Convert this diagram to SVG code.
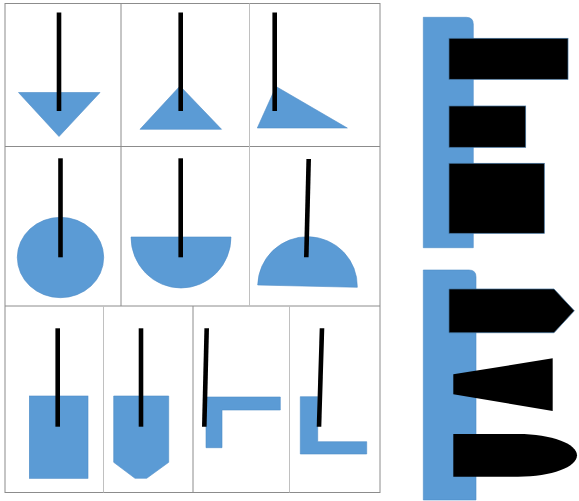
<svg xmlns="http://www.w3.org/2000/svg" width="579" height="501" viewBox="0 0 579 501">
<style>
.grid{stroke:#8c8c8c;stroke-width:1;fill:none}
.gridl{stroke:#c0c0c0;stroke-width:1;fill:none}
.blue{fill:#5B9BD5;stroke:#4F8DC8;stroke-width:0.6}
.rod{stroke:#000;stroke-width:4.6;stroke-linecap:butt}
.blk{fill:#000;stroke:#41719C;stroke-width:0.7}
.blk2{fill:#000}
</style>
<rect width="579" height="501" fill="#fff"/>
<g id="table">
<rect class="grid" x="5" y="3.5" width="375" height="489"/>
<line class="grid" x1="5" y1="146.5" x2="380" y2="146.5"/>
<line class="grid" x1="5" y1="306" x2="380" y2="306"/>
<line class="grid" x1="121" y1="3.5" x2="121" y2="306"/>
<line class="gridl" x1="249.5" y1="3.5" x2="249.5" y2="306"/>
<line class="gridl" x1="103.5" y1="306" x2="103.5" y2="492.5"/>
<line class="grid" x1="193" y1="306" x2="193" y2="492.5"/>
<line class="gridl" x1="289.5" y1="306" x2="289.5" y2="492.5"/>
</g>
<g id="cell-1-1">
<polygon class="blue" points="18.5,92.5 100,92.5 59,136.5"/>
<line class="rod" x1="59" y1="12.5" x2="59" y2="111"/>
</g>
<g id="cell-1-2">
<polygon class="blue" points="180,86 221.5,129.3 140,129.3"/>
<line class="rod" x1="180.7" y1="12.5" x2="180.7" y2="111"/>
</g>
<g id="cell-1-3">
<polygon class="blue" points="276,86.5 347.3,128 257.3,128"/>
<line class="rod" x1="274.7" y1="12.5" x2="274.7" y2="111"/>
</g>
<g id="cell-2-1">
<ellipse class="blue" cx="60.5" cy="257.5" rx="43.2" ry="40.2"/>
<line class="rod" x1="60.5" y1="158.3" x2="60.5" y2="257.3"/>
</g>
<g id="cell-2-2">
<path class="blue" d="M131,237 L231,237 A50,51 0 0 1 131,237 Z"/>
<line class="rod" x1="180.7" y1="158.3" x2="180.7" y2="257.3"/>
</g>
<g id="cell-2-3">
<path class="blue" d="M257.7,285 A49.8,49.5 0 0 1 357.3,287.3 Z"/>
<line class="rod" x1="308.7" y1="159" x2="306.3" y2="257.3"/>
</g>
<g id="cell-3-1">
<rect class="blue" x="29.3" y="396" width="58.7" height="82.3"/>
<line class="rod" x1="57.7" y1="328.3" x2="57.7" y2="426.7"/>
</g>
<g id="cell-3-2">
<polygon class="blue" points="113.7,396 168.7,396 168.7,462.3 146.7,478.3 135,478.3 113.7,462.3"/>
<line class="rod" x1="141" y1="328.3" x2="141" y2="426.7"/>
</g>
<g id="cell-3-3">
<polygon class="blue" points="206,397 280.3,397 280.3,410 222,410 222,447.7 206,447.7"/>
<line class="rod" x1="206.7" y1="328.3" x2="204.3" y2="426.7"/>
</g>
<g id="cell-3-4">
<polygon class="blue" points="300.3,396.7 317.7,396.7 317.7,441.7 366.7,441.7 366.7,454 300.3,454"/>
<line class="rod" x1="322" y1="328.3" x2="319" y2="426.7"/>
</g>
<g id="panel-top">
<path class="blue" d="M423.3,17.3 L466.3,17.3 Q473.3,17.3 473.3,24.3 L473.3,247.7 L423.3,247.7 Z"/>
<rect class="blk" x="449" y="38.3" width="119" height="41"/>
<rect class="blk" x="449" y="106" width="76.7" height="41.3"/>
<rect class="blk" x="449" y="163.3" width="95.3" height="70"/>
</g>
<g id="panel-bottom">
<path class="blue" d="M423.3,270 L469,270 Q476,270 476,277 L476,500 L423.3,500 Z"/>
<polygon class="blk" points="449,289 554,289 574.3,310.8 554,332.7 449,332.7"/>
<polygon class="blk2" points="453.3,374.3 552.7,358.3 552.7,411 453.3,394.3"/>
<path class="blk2" d="M453.3,434 L518,434 C552,434 577,444 577,455.3 C577,467 552,476.7 518,476.7 L453.3,476.7 Z"/>
</g>
</svg>
